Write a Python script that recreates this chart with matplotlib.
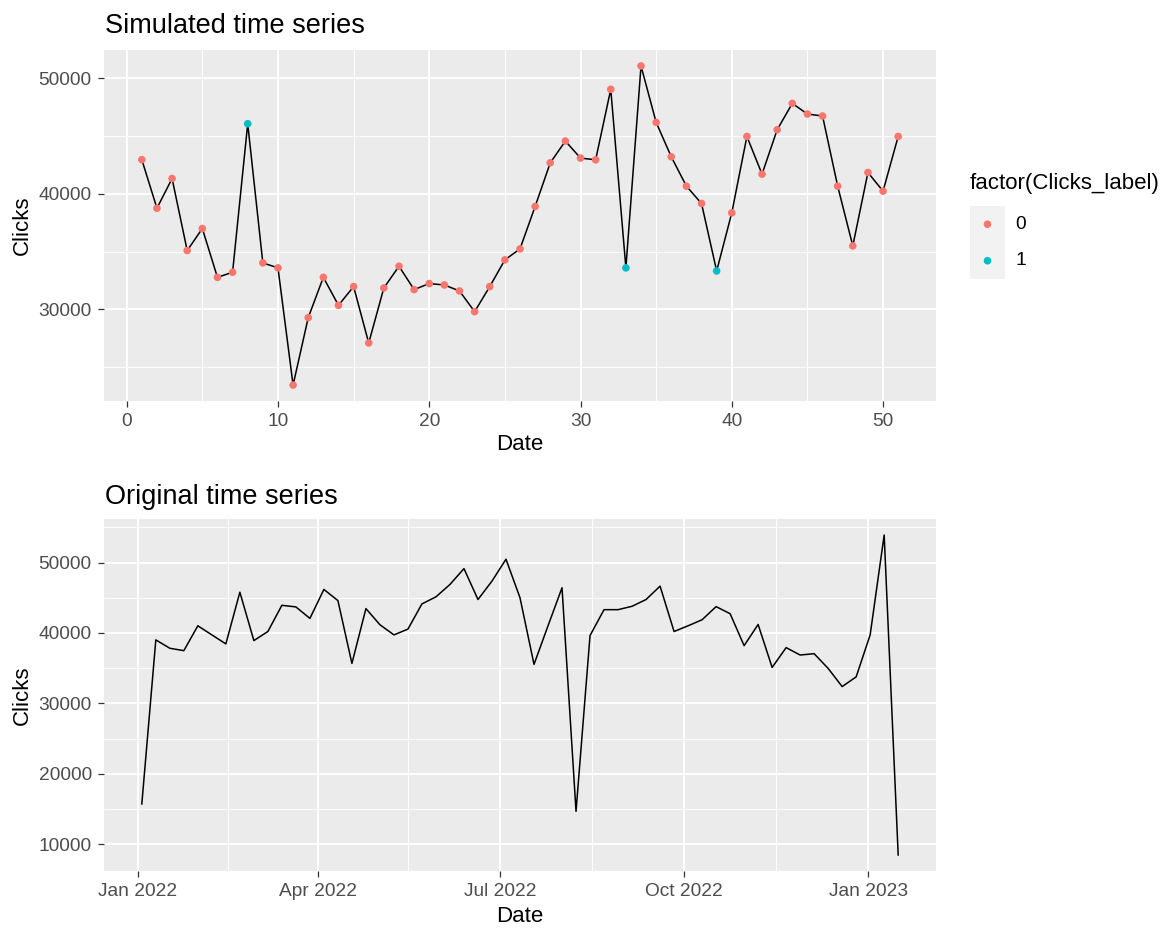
import numpy as np
import pandas as pd
import matplotlib
matplotlib.use("Agg")
import matplotlib.pyplot as plt
import matplotlib.dates as mdates
from matplotlib.ticker import MultipleLocator, FixedLocator, FuncFormatter

plt.rcParams['font.family'] = ['Liberation Sans', 'DejaVu Sans']

# ---------------- data ----------------
sim_index = list(range(1, 52))
sim_clicks = [42960, 38760, 41330, 35100, 37000, 32780, 33220, 46070, 34030, 33600,
              23460, 29290, 32780, 30360, 31980, 27100, 31860, 33740, 31720, 32240,
              32120, 31600, 29810, 31980, 34290, 35240, 38910, 42690, 44570, 43100,
              42950, 49050, 33600, 51070, 46190, 43210, 40670, 39170, 33330, 38360,
              44970, 41710, 45550, 47830, 46910, 46740, 40670, 35500, 41850, 40240,
              44970]
sim_label = [0, 0, 0, 0, 0, 0, 0, 1, 0, 0,
             0, 0, 0, 0, 0, 0, 0, 0, 0, 0,
             0, 0, 0, 0, 0, 0, 0, 0, 0, 0,
             0, 0, 1, 0, 0, 0, 0, 0, 1, 0,
             0, 0, 0, 0, 0, 0, 0, 0, 0, 0,
             0]

orig_start = "2022-01-03"
orig_clicks = [15730, 39020, 37830, 37490, 41020, 39730, 38450, 45790, 38920, 40210,
               43930, 43700, 42070, 46180, 44600, 35680, 43460, 41170, 39730, 40550,
               44130, 45130, 46890, 49140, 44750, 47370, 50470, 45000, 35540, 41020,
               46420, 14680, 39640, 43310, 43310, 43790, 44750, 46650, 40210, 41020,
               41880, 43740, 42740, 38200, 41210, 35110, 37920, 36870, 37060, 34970,
               32390, 33770, 39740, 53910, 8480]
orig_dates = pd.date_range(orig_start, periods=len(orig_clicks), freq="7D")

legend_levels = ["0", "1"]
level_colors = {0: "#F8766D", 1: "#00BFC4"}

date_breaks = pd.to_datetime(["2022-01-01", "2022-04-01", "2022-07-01", "2022-10-01", "2023-01-01"])
date_minor = pd.to_datetime(["2022-02-15", "2022-05-16", "2022-08-16", "2022-11-16"])
date_labels = ["Jan 2022", "Apr 2022", "Jul 2022", "Oct 2022", "Jan 2023"]

# ---------------- style ----------------
W, H = 1174, 932
fig = plt.figure(figsize=(W / 100, H / 100), dpi=100)
fig.patch.set_facecolor("white")

PANEL = "#EBEBEB"
TICKC = "#4D4D4D"
TICK_FS = 13.8
AXT_FS = 16
TITLE_FS = 19.5


def style_axes(ax):
    ax.set_facecolor(PANEL)
    for s in ax.spines.values():
        s.set_visible(False)
    ax.grid(which="major", color="white", linewidth=1.3)
    ax.grid(which="minor", color="white", linewidth=0.65)
    ax.set_axisbelow(True)
    ax.tick_params(which="major", length=4, width=0.9, color="#333333",
                   labelcolor=TICKC, labelsize=TICK_FS)
    ax.tick_params(axis="x", which="major", pad=4.5)
    ax.tick_params(axis="y", which="major", pad=4.8)
    ax.tick_params(which="minor", length=0)


def expand(vals, frac=0.05):
    lo, hi = min(vals), max(vals)
    p = (hi - lo) * frac
    return lo - p, hi + p


def fx(px):
    return px / W


def fy(py):
    return 1 - py / H


int_fmt = FuncFormatter(lambda v, p: f"{int(round(v))}")

# ---- top panel ----
ax1 = fig.add_axes([fx(104), fy(401), fx(936) - fx(104), fy(50) - fy(401)])
style_axes(ax1)
ax1.plot(sim_index, sim_clicks, color="black", linewidth=1.1, zorder=2)
cols = [level_colors[l] for l in sim_label]
ax1.scatter(sim_index, sim_clicks, c=cols, s=30, linewidths=0, zorder=3)
ax1.set_xlim(*expand(sim_index))
ax1.set_ylim(*expand(sim_clicks))
ax1.xaxis.set_major_locator(MultipleLocator(10))
ax1.xaxis.set_minor_locator(MultipleLocator(5))
ax1.yaxis.set_major_locator(MultipleLocator(10000))
ax1.yaxis.set_minor_locator(MultipleLocator(5000))
ax1.yaxis.set_major_formatter(int_fmt)
ax1.set_xlabel("Date", fontsize=AXT_FS, color="black", labelpad=3)
ax1.set_ylabel("Clicks", fontsize=AXT_FS, color="black", labelpad=4)
fig.text(fx(105), fy(33), "Simulated time series", fontsize=TITLE_FS, ha="left", va="baseline")

# legend
fig.text(fx(970), fy(184), "factor(Clicks_label)", fontsize=AXT_FS, ha="left", va="center")
axl = fig.add_axes([fx(970), fy(279), fx(1005) - fx(970), fy(206) - fy(279)])
axl.set_facecolor("#F2F2F2")
for s in axl.spines.values():
    s.set_visible(False)
axl.set_xticks([])
axl.set_yticks([])
lev_pos = list(range(len(legend_levels)))
axl.scatter([0] * len(lev_pos), lev_pos, c=[level_colors[i] for i in lev_pos], s=30, linewidths=0)
axl.set_xlim(-1, 1)
axl.set_ylim(len(legend_levels) - 0.5, -0.5)
for i, lab in enumerate(legend_levels):
    axl.text(1.6, i, lab, fontsize=TICK_FS, color="black", va="center", ha="left",
             transform=axl.transData, clip_on=False)

# ---- bottom panel ----
ax2 = fig.add_axes([fx(104), fy(871), fx(936) - fx(104), fy(519) - fy(871)])
style_axes(ax2)
ax2.plot(orig_dates, orig_clicks, color="black", linewidth=1.1)
pad = (orig_dates[-1] - orig_dates[0]) * 0.05
ax2.set_xlim(orig_dates[0] - pad, orig_dates[-1] + pad)
ax2.set_ylim(*expand(orig_clicks))
ax2.xaxis.set_major_locator(FixedLocator(mdates.date2num(date_breaks)))
ax2.xaxis.set_minor_locator(FixedLocator(mdates.date2num(date_minor)))
ax2.set_xticklabels(date_labels)
ax2.yaxis.set_major_locator(MultipleLocator(10000))
ax2.yaxis.set_minor_locator(MultipleLocator(5000))
ax2.yaxis.set_major_formatter(int_fmt)
ax2.set_xlabel("Date", fontsize=AXT_FS, color="black", labelpad=4.5)
ax2.set_ylabel("Clicks", fontsize=AXT_FS, color="black", labelpad=4)
fig.text(fx(105), fy(504), "Original time series", fontsize=TITLE_FS, ha="left", va="baseline")

fig.savefig("out.png", dpi=100)
